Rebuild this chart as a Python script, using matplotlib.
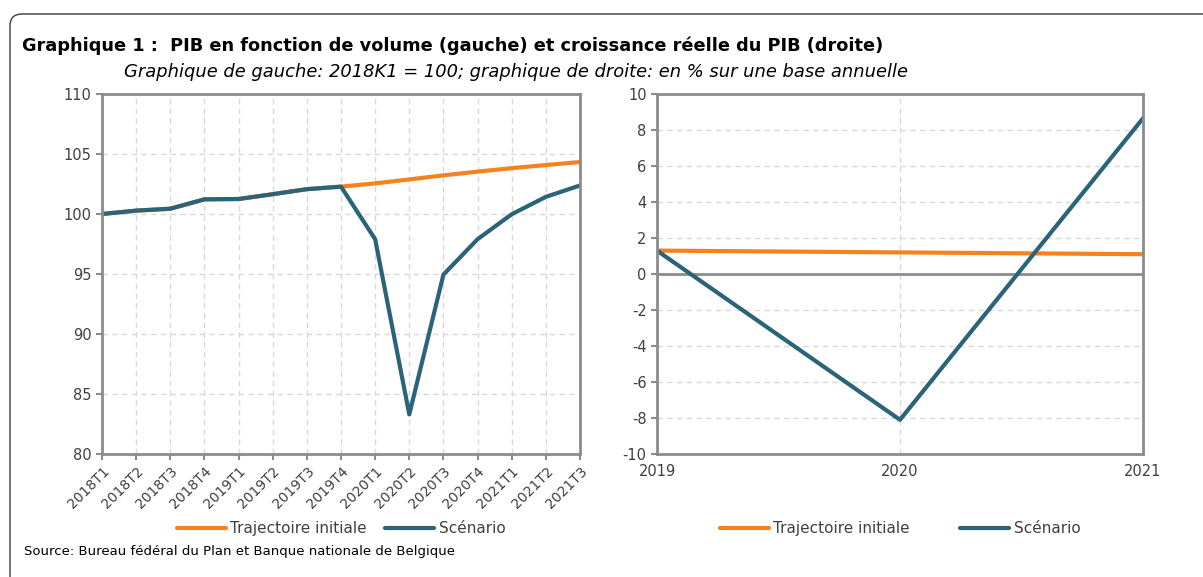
#!/usr/bin/env python3
"""PIB en volume (gauche) et croissance reelle du PIB (droite)."""

import matplotlib
matplotlib.use("Agg")
import matplotlib.pyplot as plt  # noqa: E402
from matplotlib.patches import FancyBboxPatch  # noqa: E402
from matplotlib.transforms import IdentityTransform  # noqa: E402

# ---------------------------------------------------------------------------
# Data
# ---------------------------------------------------------------------------
QUARTERS = [
    "2018T1", "2018T2", "2018T3", "2018T4",
    "2019T1", "2019T2", "2019T3", "2019T4",
    "2020T1", "2020T2", "2020T3", "2020T4",
    "2021T1", "2021T2", "2021T3",
]
LEVEL_INITIAL = [
    100.0, 100.28, 100.44, 101.22,
    101.25, 101.65, 102.07, 102.28,
    102.55, 102.88, 103.22, 103.53,
    103.82, 104.08, 104.33,
]
LEVEL_SCENARIO = [
    100.0, 100.28, 100.44, 101.22,
    101.25, 101.65, 102.07, 102.28,
    97.9, 83.3, 94.95, 97.9,
    99.98, 101.43, 102.38,
]

YEARS = [2019, 2020, 2021]
GROWTH_INITIAL = [1.3, 1.2, 1.1]
GROWTH_SCENARIO = [1.3, -8.1, 8.65]

LABEL_INITIAL = "Trajectoire initiale"
LABEL_SCENARIO = "Scénario"

ORANGE = "#F5821F"
TEAL = "#2B6379"
SPINE = "#8C8C8C"
GRID = "#D9D9D9"
TXT = "#404040"

plt.rcParams["font.family"] = ["DejaVu Sans"]
plt.rcParams["axes.unicode_minus"] = False


def style_axes(ax):
    for side in ("left", "right", "top", "bottom"):
        ax.spines[side].set_color(SPINE)
        ax.spines[side].set_linewidth(2.0)
    ax.tick_params(axis="both", colors=SPINE, labelcolor=TXT,
                   labelsize=10.5, length=4, width=1.5)
    ax.grid(True, color=GRID, linestyle=(0, (4, 3)), linewidth=1.0)
    ax.set_axisbelow(True)


def main() -> int:
    fig = plt.figure(figsize=(12.03, 5.77), dpi=100)

    # rounded frame (only top and left edges visible)
    frame = FancyBboxPatch(
        (10, -60), 1300, 563 + 60,
        boxstyle="round,pad=0,rounding_size=12",
        transform=IdentityTransform(),
        facecolor="none", edgecolor="#3a3a3a", linewidth=1.0,
    )
    fig.patches.append(frame)

    fig.text(22 / 1203, 1 - 46 / 577,
             "Graphique 1 :  PIB en fonction de volume (gauche) et croissance réelle du PIB (droite)",
             fontsize=12.8, fontweight="bold", ha="left", va="center")
    fig.text(516 / 1203, 1 - 72 / 577,
             "Graphique de gauche: 2018K1 = 100; graphique de droite: en % sur une base annuelle",
             fontsize=12.9, style="italic", ha="center", va="center")
    fig.text(24 / 1203, 1 - 552 / 577,
             "Source: Bureau fédéral du Plan et Banque nationale de Belgique",
             fontsize=9.5, ha="left", va="center")

    # ------------------------------------------------------------------
    # Left: PIB en volume
    # ------------------------------------------------------------------
    ax1 = fig.add_axes([102 / 1203, 1 - 454 / 577, 478 / 1203, 360 / 577])
    x = list(range(len(QUARTERS)))
    ax1.plot(x, LEVEL_INITIAL, color=ORANGE, lw=3, label=LABEL_INITIAL,
             solid_capstyle="round")
    ax1.plot(x, LEVEL_SCENARIO, color=TEAL, lw=3, label=LABEL_SCENARIO,
             solid_capstyle="round")
    ax1.set_xlim(0, len(QUARTERS) - 1)
    ax1.set_ylim(80, 110)
    ax1.set_yticks(range(80, 111, 5))
    ax1.set_xticks(x)
    ax1.set_xticklabels(QUARTERS, rotation=45, ha="right",
                        rotation_mode="anchor")
    style_axes(ax1)
    ax1.tick_params(axis="x", labelsize=10)
    ax1.legend(loc="center", bbox_to_anchor=(0.5, -0.208), ncol=2,
               frameon=False, fontsize=11, handlelength=3.2,
               columnspacing=1.2, handletextpad=0.3, labelcolor=TXT)

    # ------------------------------------------------------------------
    # Right: croissance annuelle
    # ------------------------------------------------------------------
    ax2 = fig.add_axes([657 / 1203, 1 - 454 / 577, 486 / 1203, 360 / 577])
    ax2.axhline(0, color=SPINE, lw=2.0, zorder=1)
    ax2.plot(YEARS, GROWTH_INITIAL, color=ORANGE, lw=3, label=LABEL_INITIAL,
             solid_capstyle="round")
    ax2.plot(YEARS, GROWTH_SCENARIO, color=TEAL, lw=3, label=LABEL_SCENARIO,
             solid_capstyle="round")
    ax2.set_xlim(YEARS[0], YEARS[-1])
    ax2.set_ylim(-10, 10)
    ax2.set_yticks(range(-10, 11, 2))
    ax2.set_xticks(YEARS)
    ax2.set_xticklabels([str(y) for y in YEARS])
    style_axes(ax2)
    ax2.tick_params(axis="x", length=0, pad=7)
    ax2.legend(loc="center", bbox_to_anchor=(0.5, -0.208), ncol=2,
               frameon=False, fontsize=11, handlelength=3.2,
               columnspacing=3.3, handletextpad=0.3, labelcolor=TXT)

    fig.savefig("out.png", dpi=100)
    plt.close(fig)
    return 0


if __name__ == "__main__":
    raise SystemExit(main())
